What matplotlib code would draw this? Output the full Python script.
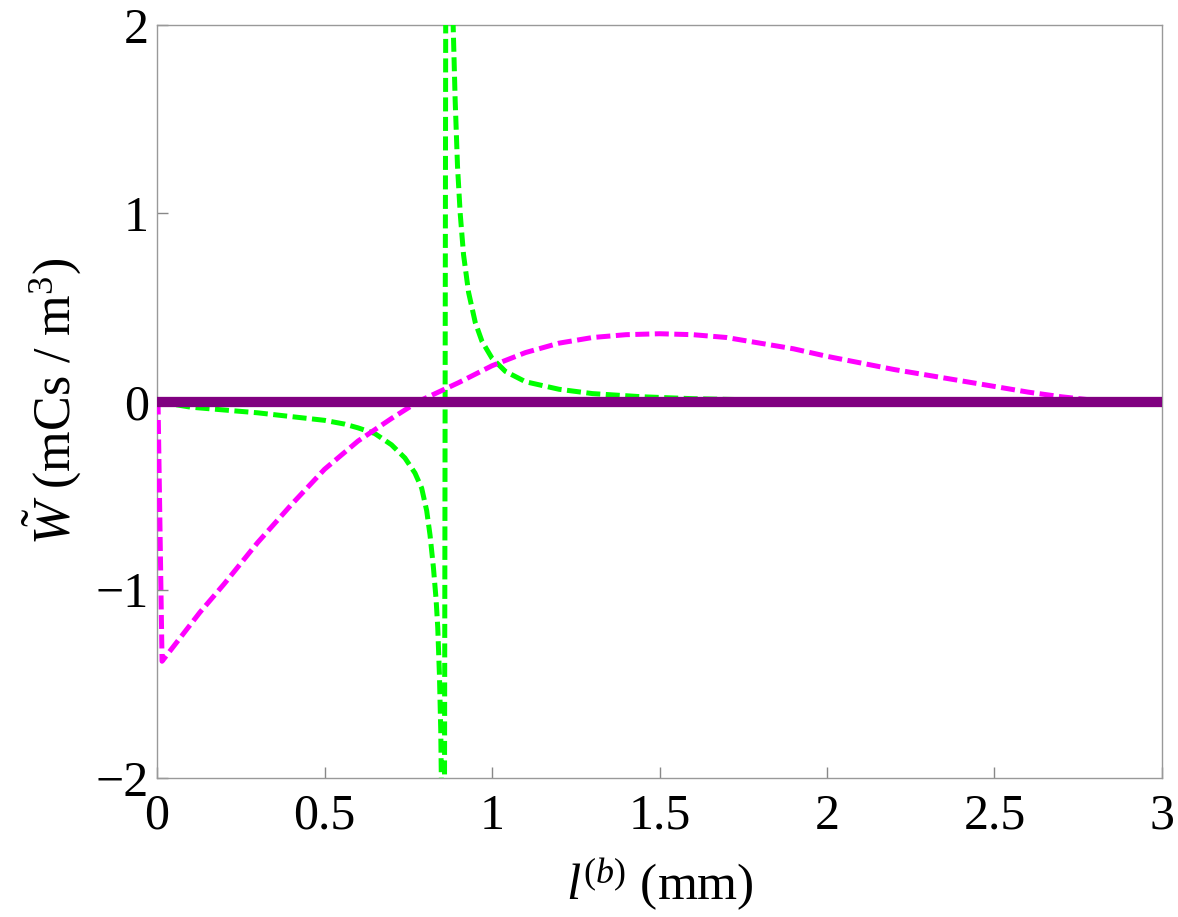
import numpy as np
import matplotlib.pyplot as plt

# valores (l en mm, W en mCs/m^3)
l_magenta = [0.0, 0.003, 0.015, 0.128, 0.2, 0.3, 0.4, 0.5, 0.6, 0.7, 0.78, 0.9, 1.0,
             1.1, 1.2, 1.3, 1.4, 1.5, 1.6, 1.7, 1.8, 1.9, 2.0, 2.1, 2.2, 2.3, 2.4,
             2.5, 2.6, 2.7, 2.8, 2.85, 3.0]
w_magenta = [0.0, 0.0, -1.38, -1.12, -0.97, -0.75, -0.55, -0.36, -0.21, -0.09, 0.0, 0.1, 0.19,
             0.26, 0.31, 0.34, 0.355, 0.36, 0.355, 0.34, 0.31, 0.28, 0.24, 0.205, 0.17, 0.14, 0.11,
             0.08, 0.05, 0.025, 0.006, 0.0, 0.0]

l_green = [0.0, 0.1, 0.2, 0.3, 0.4, 0.5, 0.56, 0.6, 0.65, 0.7, 0.74, 0.77, 0.79, 0.805,
           0.815, 0.825, 0.833, 0.838, 0.843, 0.847, 0.850, 0.858, 0.862,
           0.884, 0.89, 0.897, 0.905, 0.915, 0.93, 0.95, 0.97, 1.0, 1.04, 1.1, 1.2,
           1.3, 1.45, 1.6, 1.8, 2.1, 2.5, 3.0]
w_green = [0.0, -0.03, -0.045, -0.06, -0.08, -0.1, -0.12, -0.14, -0.17, -0.23, -0.3, -0.38, -0.46, -0.58,
           -0.71, -0.88, -1.05, -1.2, -1.45, -1.75, -2.2, -2.3, 2.3,
           2.0, 1.6, 1.25, 1.0, 0.78, 0.58, 0.42, 0.32, 0.23, 0.16, 0.105, 0.065,
           0.042, 0.025, 0.015, 0.008, 0.004, 0.001, 0.0]

l_purple = [0.0, 3.0]
w_purple = [0.0, 0.0]

x_ticks = [0, 0.5, 1, 1.5, 2, 2.5, 3]
x_labels = ["0", "0.5", "1", "1.5", "2", "2.5", "3"]
y_ticks = [-2, -1, 0, 1, 2]
y_labels = ["\u22122", "\u22121", "0", "1", "2"]

plt.rcParams["font.family"] = "Liberation Serif"
plt.rcParams["mathtext.fontset"] = "custom"
plt.rcParams["mathtext.rm"] = "Liberation Serif"
plt.rcParams["mathtext.it"] = "Liberation Serif:italic"

fig = plt.figure(figsize=(11.78, 9.17), dpi=100)
ax = fig.add_axes([0.1333, 0.1516, 0.8531, 0.8211])

ax.plot(l_green, w_green, color="#00ff00", lw=3.6, dashes=(2.8, 1.1), zorder=3)
ax.plot(l_magenta, w_magenta, color="#ff00ff", lw=3.6, dashes=(2.8, 1.1), zorder=4)
ax.plot(l_purple, w_purple, color="#800080", lw=7.4, solid_capstyle="butt", zorder=5)

ax.set_xlim(0, 3)
ax.set_ylim(-2, 2)
ax.set_xticks(x_ticks)
ax.set_xticklabels(x_labels)
ax.set_yticks(y_ticks)
ax.set_yticklabels(y_labels)

for s in ax.spines.values():
    s.set_color("#999999")
    s.set_linewidth(1.0)
ax.tick_params(direction="in", length=8, width=1, color="#888888",
               labelsize=36, top=False, right=False)
ax.tick_params(axis="x", pad=11)
ax.tick_params(axis="y", pad=6)

ax.set_xlabel(r"$l^{(b)}$ (mm)", fontsize=37, labelpad=12)
ax.set_ylabel(r"$\tilde{W}$ (mCs / m$^3$)", fontsize=37.5, labelpad=8)

fig.savefig("out.png", dpi=100)
